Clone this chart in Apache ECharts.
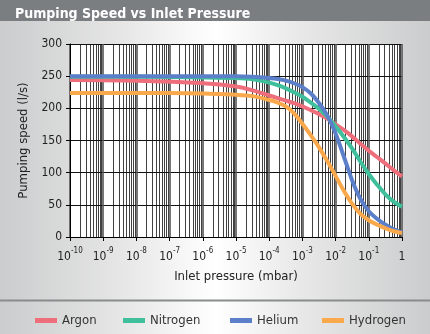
<!DOCTYPE html>
<html>
<head>
<meta charset="utf-8">
<script src="https://cdn.jsdelivr.net/npm/echarts@6/dist/echarts.min.js"></script>
<style>
  html, body { margin: 0; padding: 0; }
  #chart {
    width: 430px; height: 334px;
    background: linear-gradient(to right, #cbcccd 0%, #e8e8e8 30%, #ffffff 50%, #e8e8e8 70%, #cbcccd 100%);
  }
</style>
</head>
<body>
<div id="chart"></div>
<script>
const titleText = 'Pumping Speed vs Inlet Pressure';
const xAxisName = 'Inlet pressure (mbar)';
const yAxisName = 'Pumping speed (l/s)';
const seriesNames = ['Argon', 'Nitrogen', 'Helium', 'Hydrogen'];
const seriesColors = ['#ee6e7c', '#3fbf9b', '#5b7fc8', '#f9a94b'];
const pressure = [1e-10, 1e-8, 1e-6, 1e-5, 3.2e-5, 1e-4, 1.8e-4, 3.2e-4, 5.6e-4, 1e-3, 1.8e-3, 3.2e-3, 5.6e-3, 1e-2, 1.8e-2, 3.2e-2, 5.6e-2, 0.1, 0.18, 0.32, 0.56, 1];
const argon    = [244, 243, 239, 234, 228, 220, 216, 212, 208, 203, 197, 191, 184, 175, 166, 156, 145, 134, 124, 114, 104, 94];
const nitrogen = [249, 249, 248, 247, 245, 240, 236, 231, 225, 218, 209, 199, 187, 172, 155, 137, 117, 98, 81, 66, 55, 47];
const helium   = [250, 250, 250, 250, 249, 247, 245.5, 243, 239, 233, 223, 208, 189, 161, 124, 87, 59, 40, 28, 19, 12, 7];
const hydrogen = [224, 224, 223, 221, 219, 213, 209, 203, 192, 176, 158, 139, 118, 95, 71, 51, 36, 26, 19, 13.5, 9, 6];
const yTicks = [0, 50, 100, 150, 200, 250, 300];

const FONT = '"Liberation Sans Narrow", "DejaVu Sans Condensed", "Roboto", sans-serif';
const allValues = [argon, nitrogen, helium, hydrogen];

const chart = echarts.init(document.getElementById('chart'), null, { renderer: 'canvas' });

const series = seriesNames.map((name, i) => ({
  name: name,
  type: 'line',
  smooth: 0.3,
  symbol: 'none',
  data: pressure.map((p, j) => [p, allValues[i][j]]),
  lineStyle: { color: seriesColors[i], width: 4 },
  itemStyle: { color: seriesColors[i] },
  z: 3 + i
}));

const legendLefts = [30, 118, 225, 317];
const legends = seriesNames.map((name, i) => ({
  data: [name],
  left: legendLefts[i],
  top: 309,
  icon: 'rect',
  itemWidth: 22,
  itemHeight: 5,
  itemGap: 6,
  textStyle: { fontFamily: FONT, fontSize: 13, color: '#333' }
}));

chart.setOption({
  animation: false,
  backgroundColor: 'transparent',
  title: {
    text: titleText,
    left: 10, top: 2,
    textStyle: { color: '#ffffff', fontFamily: FONT, fontWeight: 'bold', fontSize: 14 }
  },
  graphic: [
    { type: 'rect', shape: { x: 0, y: 0, width: 430, height: 21 }, style: { fill: '#7b7e81' }, z: -10 },
    { type: 'rect', shape: { x: 0, y: 299.5, width: 430, height: 2 }, style: { fill: '#8a8b8c' }, z: -10 }
  ],
  legend: legends,
  grid: { left: 70, right: 28, top: 44, bottom: 97, show: true, backgroundColor: '#ffffff', borderWidth: 0 },
  xAxis: {
    type: 'log',
    logBase: 10,
    min: 1e-10,
    max: 1,
    interval: 1,
    name: xAxisName,
    nameLocation: 'middle',
    nameGap: 33,
    nameTextStyle: { fontFamily: FONT, fontSize: 13, color: '#222' },
    axisLine: { show: true, lineStyle: { color: '#000', width: 1 } },
    axisTick: { show: true, length: 4, lineStyle: { color: '#000' } },
    axisLabel: {
      margin: 10,
      fontFamily: FONT, fontSize: 12, color: '#222',
      formatter: function (v) {
        const e = Math.round(Math.log10(v));
        if (e === 0) return '{b|1}';
        return '{b|10}{s|' + e + '}';
      },
      rich: {
        b: { fontFamily: FONT, fontSize: 12, color: '#222', lineHeight: 16, verticalAlign: 'bottom' },
        s: { fontFamily: FONT, fontSize: 8, color: '#222', lineHeight: 16, verticalAlign: 'top', padding: [0, 0, 6, 0] }
      }
    },
    splitLine: { show: true, lineStyle: { color: '#555', width: 1.6 } },
    minorTick: { show: false, splitNumber: 9 },
    minorSplitLine: { show: true, lineStyle: { color: '#111', width: 0.8 } }
  },
  yAxis: {
    type: 'value',
    min: 0, max: 300, interval: 50,
    name: yAxisName,
    nameLocation: 'middle',
    nameGap: 40,
    nameTextStyle: { fontFamily: FONT, fontSize: 13, color: '#222' },
    axisLine: { show: true, lineStyle: { color: '#000', width: 1 } },
    axisTick: { show: true, length: 4, lineStyle: { color: '#000' } },
    axisLabel: {
      margin: 8, fontFamily: FONT, fontSize: 12, color: '#222',
      formatter: function (v) { return yTicks.indexOf(v) >= 0 ? String(v) : ''; }
    },
    splitLine: { show: true, lineStyle: { color: '#111', width: 1.2 } }
  },
  series: series
});
</script>
</body>
</html>
